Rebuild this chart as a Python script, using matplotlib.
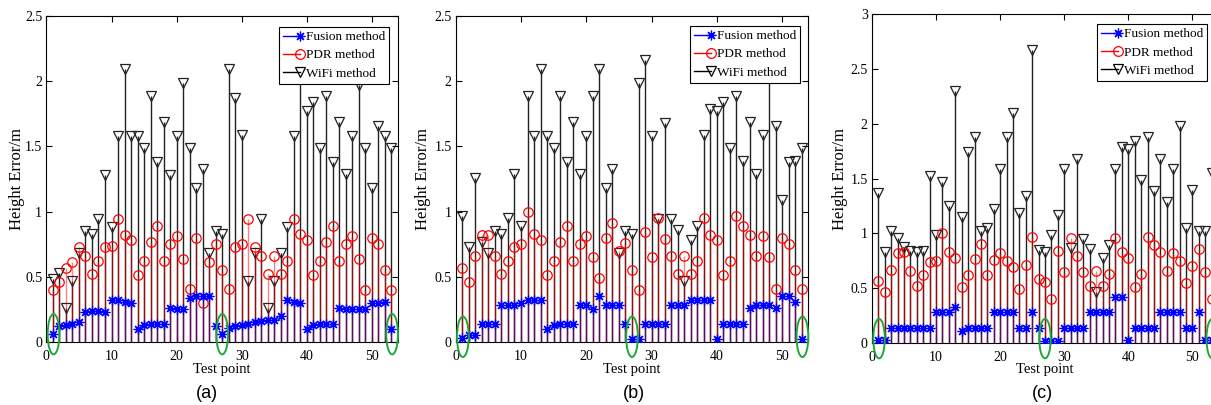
import matplotlib.pyplot as plt
import numpy as np
from matplotlib.legend_handler import HandlerLine2D
from matplotlib.lines import Line2D
from matplotlib.patches import Ellipse

plt.rcParams["font.family"] = ["Liberation Serif", "DejaVu Serif"]

test_points = np.arange(1, 54)
labels = ["Fusion method", "PDR method", "WiFi method"]
panel_names = ["(a)", "(b)", "(c)"]
circled_points = [1.1, 27.0, 53.1]

# panel (a)
fusion_a = [0.06, 0.12, 0.13, 0.14, 0.15, 0.23, 0.24, 0.24, 0.23, 0.32,
            0.32, 0.31, 0.30, 0.10, 0.13, 0.14, 0.14, 0.14, 0.26, 0.25,
            0.25, 0.34, 0.35, 0.35, 0.35, 0.12, 0.06, 0.11, 0.12, 0.13,
            0.14, 0.15, 0.16, 0.17, 0.17, 0.20, 0.32, 0.31, 0.30, 0.10,
            0.13, 0.14, 0.14, 0.14, 0.26, 0.25, 0.25, 0.25, 0.25, 0.30,
            0.30, 0.31, 0.10]
pdr_a = [0.40, 0.46, 0.57, 0.61, 0.73, 0.66, 0.52, 0.62, 0.73, 0.74,
         0.94, 0.82, 0.78, 0.51, 0.62, 0.77, 0.89, 0.62, 0.75, 0.81,
         0.64, 0.41, 0.80, 0.30, 0.61, 0.75, 0.55, 0.41, 0.73, 0.75,
         0.94, 0.73, 0.66, 0.52, 0.66, 0.52, 0.62, 0.94, 0.83, 0.78,
         0.51, 0.62, 0.77, 0.89, 0.62, 0.75, 0.81, 0.64, 0.40, 0.80,
         0.75, 0.55, 0.40]
wifi_a = [0.48, 0.53, 0.26, 0.47, 0.68, 0.85, 0.83, 0.94, 1.28, 0.88,
          1.58, 2.09, 1.58, 1.58, 1.49, 1.89, 1.38, 1.69, 1.28, 1.58,
          1.99, 1.49, 1.18, 1.33, 0.68, 0.85, 0.83, 2.09, 1.87, 1.59,
          0.47, 0.68, 0.94, 0.26, 0.47, 0.68, 0.88, 1.58, 2.20, 1.77,
          1.84, 1.49, 1.89, 1.38, 1.69, 1.29, 1.58, 1.97, 1.49, 1.18,
          1.66, 1.58, 1.49]

# panel (b)
fusion_b = [0.03, 0.05, 0.055, 0.14, 0.14, 0.14, 0.28, 0.28, 0.28, 0.30,
            0.32, 0.32, 0.32, 0.10, 0.13, 0.14, 0.14, 0.14, 0.28, 0.28,
            0.25, 0.35, 0.28, 0.28, 0.28, 0.14, 0.02, 0.02, 0.14, 0.14,
            0.14, 0.14, 0.28, 0.28, 0.28, 0.32, 0.32, 0.32, 0.32, 0.02,
            0.14, 0.14, 0.14, 0.14, 0.26, 0.28, 0.28, 0.28, 0.26, 0.35,
            0.35, 0.31, 0.02]
pdr_b = [0.57, 0.46, 0.66, 0.82, 0.82, 0.66, 0.52, 0.62, 0.73, 0.75,
         1.00, 0.83, 0.78, 0.51, 0.62, 0.77, 0.89, 0.62, 0.75, 0.81,
         0.65, 0.49, 0.80, 0.91, 0.70, 0.76, 0.55, 0.40, 0.84, 0.65,
         0.95, 0.79, 0.66, 0.52, 0.66, 0.52, 0.62, 0.95, 0.82, 0.78,
         0.51, 0.62, 0.97, 0.89, 0.82, 0.66, 0.81, 0.65, 0.41, 0.80,
         0.75, 0.55, 0.41]
wifi_b = [0.97, 0.73, 1.26, 0.77, 0.68, 0.85, 0.83, 0.95, 1.29, 0.89,
          1.89, 1.58, 2.09, 1.58, 1.49, 1.89, 1.38, 1.69, 1.29, 1.58,
          1.89, 2.09, 1.18, 1.33, 0.68, 0.85, 0.83, 1.99, 2.16, 1.58,
          0.94, 1.68, 0.94, 0.86, 0.47, 0.78, 0.89, 1.59, 1.79, 1.77,
          1.84, 1.49, 1.89, 1.39, 1.69, 1.29, 1.59, 2.03, 1.66, 1.09,
          1.38, 1.39, 1.49]

# panel (c)
fusion_c = [0.03, 0.03, 0.14, 0.14, 0.14, 0.14, 0.14, 0.14, 0.14, 0.28,
            0.28, 0.28, 0.33, 0.11, 0.14, 0.14, 0.14, 0.14, 0.28, 0.28,
            0.28, 0.28, 0.14, 0.14, 0.28, 0.14, 0.02, 0.02, 0.02, 0.14,
            0.14, 0.14, 0.14, 0.28, 0.28, 0.28, 0.28, 0.42, 0.42, 0.03,
            0.14, 0.14, 0.14, 0.14, 0.28, 0.28, 0.28, 0.28, 0.14, 0.14,
            0.28, 0.03, 0.03]
pdr_c = [0.57, 0.47, 0.67, 0.82, 0.83, 0.66, 0.52, 0.62, 0.74, 0.75,
         1.00, 0.83, 0.78, 0.51, 0.62, 0.77, 0.90, 0.62, 0.76, 0.82,
         0.75, 0.69, 0.49, 0.71, 0.97, 0.58, 0.56, 0.40, 0.84, 0.65,
         0.96, 0.79, 0.65, 0.52, 0.66, 0.52, 0.63, 0.96, 0.83, 0.78,
         0.51, 0.63, 0.97, 0.89, 0.83, 0.66, 0.82, 0.75, 0.55, 0.70,
         0.86, 0.65, 0.40]
wifi_c = [1.37, 0.83, 1.02, 0.96, 0.88, 0.84, 0.83, 0.84, 1.52, 0.99,
          1.47, 1.25, 2.30, 1.15, 1.74, 1.88, 1.02, 1.05, 1.22, 1.59,
          1.88, 2.10, 1.19, 1.34, 2.67, 0.85, 0.83, 0.99, 1.17, 1.59,
          0.87, 1.68, 0.95, 0.86, 0.47, 0.78, 0.89, 1.59, 1.79, 1.77,
          1.84, 1.49, 1.88, 1.39, 1.68, 1.29, 1.59, 1.98, 1.05, 1.40,
          1.02, 1.02, 1.55]

ASTERISK = (8, 2, 0)


class StemLegendHandler(HandlerLine2D):
    # short horizontal line with the marker sitting at its right end
    def create_artists(self, legend, orig_handle, xdescent, ydescent,
                       width, height, fontsize, trans):
        artists = super().create_artists(legend, orig_handle, xdescent, ydescent,
                                         width, height, fontsize, trans)
        artists[0].set_markevery([2])
        return artists


def draw_panel(ax, fusion, pdr, wifi, ymax, ell_h, ell_y, anchor):
    series = [
        (wifi, "#222222", "v", 1.0, 7.2),
        (pdr, "red", "o", 0.5, 6.8),
        (fusion, "blue", ASTERISK, 0.35, 7.0),
    ]
    for values, color, marker, alpha, ms in series:
        markerline, stemlines, baseline = ax.stem(test_points, values)
        stemlines.set(color=color, linewidth=1.0, alpha=alpha, zorder=2)
        markerline.set(marker=marker, linestyle="none", markerfacecolor="none",
                       markeredgecolor=color, markersize=ms,
                       markeredgewidth=0.9, zorder=3)
        baseline.set_visible(False)

    for xc in circled_points:
        ax.add_patch(Ellipse((xc, ell_y), 1.8, ell_h, fill=False,
                             edgecolor="#1ea83c", linewidth=1.4,
                             clip_on=False, zorder=4))

    ax.set_xlim(0, 54)
    ax.set_ylim(0, ymax)
    ax.set_xticks(np.arange(0, 51, 10))
    yt = np.arange(0, ymax + 0.01, 0.5)
    ax.set_yticks(yt)
    ax.set_yticklabels([f"{v:g}" for v in yt])
    ax.tick_params(direction="in", top=True, right=True, length=4,
                   width=0.8, labelsize=10)
    ax.tick_params(axis="x", pad=6)
    ax.tick_params(axis="y", pad=3)
    for s in ax.spines.values():
        s.set_linewidth(0.8)

    handles = [
        Line2D([], [], color="blue", marker=ASTERISK, ms=7, lw=1, mew=0.9),
        Line2D([], [], color="red", marker="o", mfc="none", ms=7, lw=1, mew=0.9),
        Line2D([], [], color="black", marker="v", mfc="none", ms=7, lw=1, mew=0.9),
    ]
    leg = ax.legend(handles, labels, handler_map={Line2D: StemLegendHandler()},
                    numpoints=1, loc="upper right", bbox_to_anchor=anchor,
                    borderaxespad=0, fontsize=9.5, fancybox=False,
                    edgecolor="black", framealpha=1, handlelength=1.3,
                    handletextpad=0.45, borderpad=0.3, labelspacing=0.45)
    leg.get_frame().set_linewidth(0.8)


fig = plt.figure(figsize=(12.11, 4.05), dpi=100)
W, H = 1211, 405

boxes = [(46.4, 398, 16, 342), (455.7, 808.3, 16, 342), (872, 1218, 14.3, 343)]
panels = [
    (fusion_a, pdr_a, wifi_a, 2.5, 0.31, 0.06, (0.974, 0.966)),
    (fusion_b, pdr_b, wifi_b, 2.5, 0.31, 0.04, (0.976, 0.969)),
    (fusion_c, pdr_c, wifi_c, 3.0, 0.36, 0.04, (0.968, 0.970)),
]
ylabel_x = [17, 423, 840]
name_x = [207, 634, 1042]

for i, ((l, r, t, b), p) in enumerate(zip(boxes, panels)):
    ax = fig.add_axes([l / W, (H - b) / H, (r - l) / W, (b - t) / H])
    draw_panel(ax, *p)
    fig.text((l + min(r, W + 6)) / 2 / W, (H - 369) / H, "Test point",
             ha="center", va="center", fontsize=10.5)
    fig.text(ylabel_x[i] / W, (H - (t + b) / 2) / H, "Height Error/m",
             rotation=90, ha="center", va="center", fontsize=12)
    fig.text(name_x[i] / W, (H - 394) / H, panel_names[i], ha="center",
             va="center", fontsize=13, family=["Liberation Sans", "DejaVu Sans"])

fig.savefig("out.png", dpi=100)
